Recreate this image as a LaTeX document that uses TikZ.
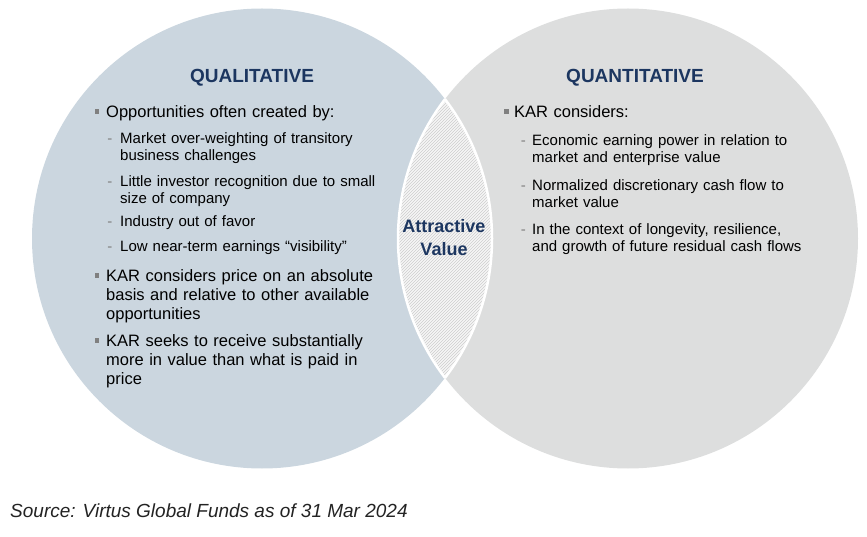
\documentclass[tikz,border=0pt]{standalone}
\usepackage{fontspec}
\setmainfont{Liberation Sans}
\usetikzlibrary{patterns}
\definecolor{qualfill}{RGB}{203,214,223}
\definecolor{quanfill}{RGB}{221,222,222}
\definecolor{navy}{RGB}{28,54,96}
\definecolor{markgray}{RGB}{128,128,128}
\definecolor{hatchgray}{RGB}{205,205,205}
\definecolor{lensbg}{RGB}{246,246,246}
\definecolor{srcgray}{RGB}{35,35,35}
\begin{document}
\begin{tikzpicture}[x=1pt,y=-1pt]
			\tikzset{heading/.style={font=\fontsize{19}{22}\selectfont\bfseries,text=navy,inner sep=0,anchor=base},
				itemone/.style={font=\fontsize{16.5}{18.8}\selectfont,text width=330pt,align=left,inner sep=0,anchor=base west},
				itemtwo/.style={font=\fontsize{15}{17}\selectfont,text width=330pt,align=left,inner sep=0,anchor=base west},
				sqmark/.style={fill=markgray,minimum size=4.6pt,inner sep=0},
				dashmark/.style={font=\fontsize{15}{17}\selectfont,text=markgray,inner sep=0,anchor=base east}}
			\useasboundingbox (0,0) rectangle (867,537);
			\fill[qualfill] (262,238.5) circle [radius=230pt];
			\fill[quanfill] (628,238.5) circle [radius=230pt];
			\begin{scope}
				\clip (262,238.5) circle [radius=230pt];
				\fill[lensbg] (628,238.5) circle [radius=230pt];
				\fill[pattern=north east lines,pattern color=hatchgray] (628,238.5) circle [radius=230pt];
				\draw[white,line width=2.5pt] (628,238.5) circle [radius=230pt];
			\end{scope}
			\begin{scope}
				\clip (628,238.5) circle [radius=230pt];
				\draw[white,line width=2.5pt] (262,238.5) circle [radius=230pt];
			\end{scope}
			\path
			(252,82.7) node[heading] (qual) {QUALITATIVE}
			(635,82.7) node[heading] (quan) {QUANTITATIVE}
			(444,232.8) node[heading,font=\fontsize{18}{22.4}\selectfont\bfseries,text width=120pt,align=center] (attr) {Attractive\\Value}
			;
			\path
			(106,118) node[itemone] (opp) {Opportunities often created by:}
			(120,144) node[itemtwo] (opp1) {Market over-weighting of transitory\\business challenges}
			(120,186.5) node[itemtwo] (opp2) {Little investor recognition due to small\\size of company}
			(120,227) node[itemtwo] (opp3) {Industry out of favor}
			(120,252) node[itemtwo] (opp4) {Low near-term earnings “visibility”}
			(106,282) node[itemone] (price) {KAR considers price on an absolute\\basis and relative to other available\\opportunities}
			(106,346.7) node[itemone] (paid) {KAR seeks to receive substantially\\more in value than what is paid in\\price}
			(514,118) node[itemone] (kar) {KAR considers:}
			(532,146) node[itemtwo] (kar1) {Economic earning power in relation to\\market and enterprise value}
			(532,190.5) node[itemtwo] (kar2) {Normalized discretionary cash flow to\\market value}
			(532,234.5) node[itemtwo] (kar3) {In the context of longevity, resilience,\\and growth of future residual cash flows}
			;
			\path
			(97,111.5) node[sqmark] (m-opp) {}
			(97,275.5) node[sqmark] (m-price) {}
			(97,340.2) node[sqmark] (m-paid) {}
			(506.5,111.5) node[sqmark] (m-kar) {}
			(112.5,144) node[dashmark] (d-opp1) {-}
			(112.5,186.5) node[dashmark] (d-opp2) {-}
			(112.5,227) node[dashmark] (d-opp3) {-}
			(112.5,252) node[dashmark] (d-opp4) {-}
			(526,146) node[dashmark] (d-kar1) {-}
			(526,190.5) node[dashmark] (d-kar2) {-}
			(526,234.5) node[dashmark] (d-kar3) {-}
			;
			\node[font=\fontsize{19}{22}\selectfont\itshape,text=srcgray,inner sep=0,anchor=base west] (src) at (10,517) {Source: Virtus Global Funds as of 31 Mar 2024};
		\end{tikzpicture}
\end{document}
